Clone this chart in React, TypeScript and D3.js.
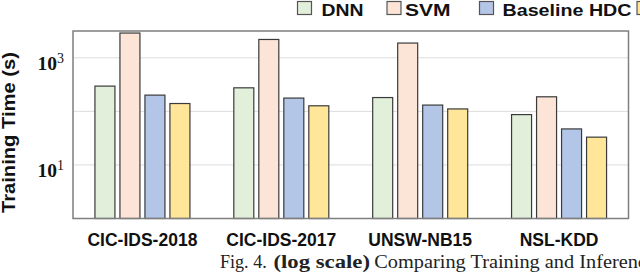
import React from 'react';
import * as d3 from 'd3';

const categories = ['CIC-IDS-2018', 'CIC-IDS-2017', 'UNSW-NB15', 'NSL-KDD'];
const seriesNames = ['DNN', 'SVM', 'Baseline HDC', 'CyberHD'];
const dnnTime = [296, 275, 181, 87];
const svmTime = [2897, 2198, 1884, 187];
const hdcTime = [201, 177, 131, 47];
const oursTime = [140, 127, 111, 33];
const gridTicks = [10, 100, 1000];
const labelTicks = [
  { v: 1000, exp: '3' },
  { v: 10, exp: '1' },
];

const colors = ['#e2efda', '#fce4d6', '#b4c6e7', '#ffe699'];
const W = 640, H = 274;
const M = { left: 73, top: 31, right: 628.5, bottom: 218.5 };
const SANS = '"Liberation Sans", Arial, sans-serif';
const SERIF = '"Liberation Serif", "Times New Roman", serif';

export default function App() {
  const values = [dnnTime, svmTime, hdcTime, oursTime];

  const x = d3.scaleBand<string>().domain(categories).range([M.left, M.right]).padding(0);
  const inner = d3.scaleBand<string>().domain(seriesNames).range([-50, 50]).paddingInner(0.2).paddingOuter(0.1);
  const y = d3.scaleLog().domain([1, Math.pow(10, 3.5)]).range([M.bottom, M.top]);

  // legend layout
  const legend = [
    { box: 297.5, tx: 321.5, tw: 42 },
    { box: 387, tx: 405, tw: 45.5 },
    { box: 479.5, tx: 502.5, tw: 129 },
    { box: 637, tx: 660, tw: 60 },
  ];

  return (
    <svg width={W} height={H} style={{ position: 'absolute', left: 0, top: 0, background: '#fff' }}>
      <rect x={0} y={0} width={W} height={H} fill="#fff" />

      {/* Grid */}
      {gridTicks.map(t => (
        <line key={t} x1={M.left} x2={M.right} y1={y(t)} y2={y(t)} stroke="#dcdcdc" strokeWidth={1} />
      ))}

      {/* Bars */}
      {categories.map((c, i) => {
        const cx = (x(c) as number) + x.bandwidth() / 2;
        return seriesNames.map((s, j) => (
          <rect key={c + s}
            x={cx + (inner(s) as number)} y={y(values[j][i])}
            width={inner.bandwidth()} height={M.bottom - y(values[j][i])}
            fill={colors[j]} stroke="#3a3a3a" strokeWidth={1.2} />
        ));
      })}

      {/* Frame */}
      <rect x={M.left} y={M.top} width={M.right - M.left} height={M.bottom - M.top}
        fill="none" stroke="#7f7f7f" strokeWidth={1.5} />

      {/* Y tick labels */}
      {labelTicks.map(t => (
        <text key={t.v} x={37.5} y={y(t.v) + 12.3} fontFamily={SERIF} fontWeight="bold" fontSize={19.5} fill="#111">
          10<tspan fontSize={14} fontWeight="normal" dy={-7.5}>{t.exp}</tspan>
        </text>
      ))}

      {/* Y axis label */}
      <text transform={`translate(15,132.5) rotate(-90)`} textAnchor="middle"
        fontFamily={SANS} fontWeight="bold" fontSize={19} fill="#111"
        textLength={161} lengthAdjust="spacingAndGlyphs">Training Time (s)</text>

      {/* X tick labels */}
      {categories.map(c => (
        <text key={c} x={(x(c) as number) + x.bandwidth() / 2} y={245.5} textAnchor="middle"
          fontFamily={SANS} fontWeight="bold" fontSize={17.5} fill="#111">{c}</text>
      ))}

      {/* Legend */}
      {seriesNames.map((s, j) => (
        <g key={s}>
          <rect x={legend[j].box} y={1.5} width={14} height={13} fill={colors[j]} stroke="#555" strokeWidth={1.2} />
          <text x={legend[j].tx} y={16} fontFamily={SANS} fontWeight="bold" fontSize={17}
            fill="#111" textLength={legend[j].tw} lengthAdjust="spacingAndGlyphs">{s}</text>
        </g>
      ))}

      {/* Caption */}
      <text x={220} y={267.5} fontFamily={SERIF} fontSize={18} fill="#222"
        textLength={46.7} lengthAdjust="spacingAndGlyphs">Fig. 4.</text>
      <text x={273.5} y={267.5} fontFamily={SERIF} fontWeight="bold" fontSize={18.5} fill="#222"
        textLength={96.5} lengthAdjust="spacingAndGlyphs">(log scale)</text>
      <text transform="translate(374.3,267.5) scale(1.13,1)" fontFamily={SERIF} fontSize={18} fill="#222">
        Comparing Training and Inference Time
      </text>
    </svg>
  );
}
